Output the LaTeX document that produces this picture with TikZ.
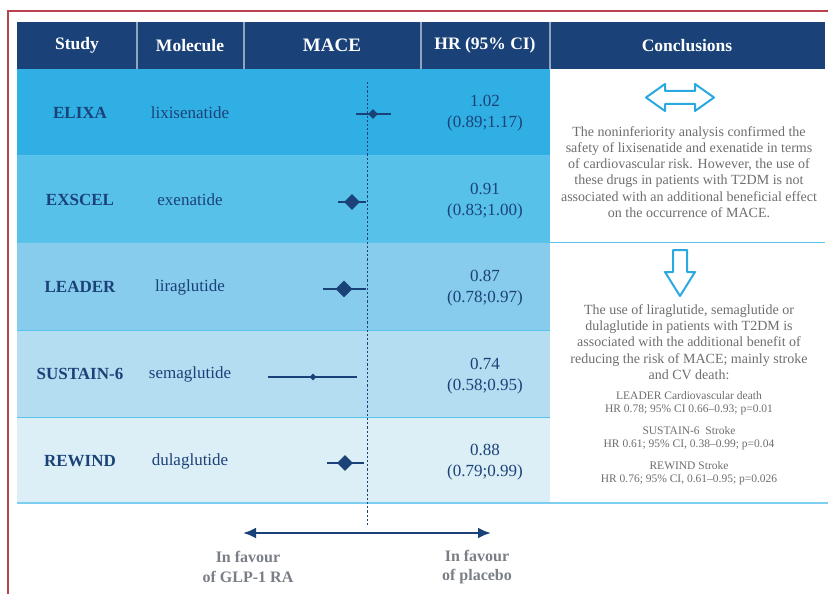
\documentclass[tikz,border=0pt]{standalone}
\usepackage{fontspec}
\setmainfont{Liberation Serif}
\usetikzlibrary{shapes.geometric,arrows.meta}
\definecolor{navy}{HTML}{1B4278}
\definecolor{redb}{HTML}{B8434D}
\definecolor{rowA}{HTML}{2FAFE3}
\definecolor{rowB}{HTML}{58C1EA}
\definecolor{rowC}{HTML}{87CCEC}
\definecolor{rowD}{HTML}{B4DDF1}
\definecolor{rowE}{HTML}{DCEFF7}
\definecolor{sepc}{HTML}{5BC3EC}
\definecolor{hsepc}{HTML}{8FA5C0}
\definecolor{cyanar}{HTML}{2AA9E1}
\definecolor{grayt}{HTML}{6E6E6E}
\definecolor{grayb}{HTML}{7A7F87}
\tikzset{
  hdr/.style={text=white,font=\fontsize{17.5}{20}\selectfont\bfseries,inner sep=0pt},
  study/.style={text=navy,font=\fontsize{17}{20}\selectfont\bfseries,inner sep=0pt},
  molec/.style={text=navy,font=\fontsize{17}{20}\selectfont,inner sep=0pt},
  hrtxt/.style={text=navy,font=\fontsize{17}{21}\selectfont,align=center,inner sep=0pt},
  concl/.style={text=grayt,font=\fontsize{14}{16.2}\selectfont,align=center,inner sep=0pt},
  small/.style={text=grayt,font=\fontsize{11.5}{13}\selectfont,align=center,inner sep=0pt},
  favour/.style={text=grayb,font=\fontsize{16}{19.5}\selectfont\bfseries,align=center,inner sep=0pt},
  hsep/.style={draw=hsepc,line width=1.2pt},
  rowsep/.style={draw=sepc,line width=1pt},
  ci/.style={draw=navy,line width=1.1pt},
  diam/.style={diamond,fill=navy,inner sep=0pt,aspect=1},
  hollow/.style={draw=cyanar,line width=2pt,line join=round,fill=white}
}
\begin{document}
\begin{tikzpicture}[x=1pt,y=-1pt]
\useasboundingbox (0,0) rectangle (828,594);
\fill[white] (0,0) rectangle (828,594);
% red frame
\draw[redb,line width=1.5pt] (8,594) -- (8,11) -- (828,11);
% header
\fill[navy] (17,22) rectangle (825,69);
\draw[hsep] (137,22) -- (137,69);
\draw[hsep] (244,22) -- (244,69);
\draw[hsep] (421,22) -- (421,69);
\draw[hsep] (550,22) -- (550,69);
\node[hdr] (hstudy) at (77,45.5) {Study};
\node[hdr] (hmol) at (190,45.5) {Molecule};
\node[hdr,font=\fontsize{19}{22}\selectfont\bfseries] (hmace) at (332,45.5) {MACE};
\node[hdr] (hhr) at (485,45.5) {HR (95\% CI)};
\node[hdr] (hcon) at (687,45.5) {Conclusions};
% rows
\fill[rowA] (17,69) rectangle (550,155);
\fill[rowB] (17,155) rectangle (550,242);
\fill[rowC] (17,242) rectangle (550,330);
\fill[rowD] (17,330) rectangle (550,417);
\fill[rowE] (17,417) rectangle (550,503);
\draw[rowsep] (17,155) -- (550,155);
\draw[rowsep] (17,242) -- (825,242);
\draw[rowsep] (17,330) -- (550,330);
\draw[rowsep] (17,417) -- (550,417);
\draw[draw=sepc!80,line width=1.2pt] (17,503) -- (828,503);
% dashed reference line
\coordinate (dtop) at (367,82);
\coordinate (dbot) at (367,527);
\draw[navy,line width=1pt,dash pattern=on 2.2pt off 2pt] (dtop) -- (dbot);
% study / molecule / HR
\node[study] (s1) at (80,113) {ELIXA};
\node[study] (s2) at (80,200) {EXSCEL};
\node[study] (s3) at (80,287) {LEADER};
\node[study] (s4) at (80,374) {SUSTAIN-6};
\node[study] (s5) at (80,461) {REWIND};
\node[molec] (m1) at (190,113) {lixisenatide};
\node[molec] (m2) at (190,200) {exenatide};
\node[molec] (m3) at (190,287) {liraglutide};
\node[molec] (m4) at (190,374) {semaglutide};
\node[molec] (m5) at (190,461) {dulaglutide};
\node[hrtxt] (h1) at (485,113) {1.02\\(0.89;1.17)};
\node[hrtxt] (h2) at (485,201) {0.91\\(0.83;1.00)};
\node[hrtxt] (h3) at (485,288) {0.87\\(0.78;0.97)};
\node[hrtxt] (h4) at (485,376) {0.74\\(0.58;0.95)};
\node[hrtxt] (h5) at (485,462) {0.88\\(0.79;0.99)};
% forest plot
\coordinate (a1) at (356,114); \coordinate (b1) at (391,114);
\draw[ci] (a1) -- (b1);
\node[diam,minimum width=10pt,minimum height=10pt] (d1) at (373,114) {};
\coordinate (a2) at (338,202); \coordinate (b2) at (366,202);
\draw[ci] (a2) -- (b2);
\node[diam,minimum width=16pt,minimum height=16pt] (d2) at (352,202) {};
\coordinate (a3) at (323,289); \coordinate (b3) at (366,289);
\draw[ci] (a3) -- (b3);
\node[diam,minimum width=17pt,minimum height=17pt] (d3) at (344,289) {};
\coordinate (a4) at (268,377); \coordinate (b4) at (357,377);
\draw[ci] (a4) -- (b4);
\node[diam,minimum width=7pt,minimum height=7pt] (d4) at (313,377) {};
\coordinate (a5) at (327,463); \coordinate (b5) at (364,463);
\draw[ci] (a5) -- (b5);
\node[diam,minimum width=16pt,minimum height=16pt] (d5) at (345,463) {};
% conclusions
\draw[hollow] (646,97.5) -- (665,84) -- (665,91) -- (695,91) -- (695,84) -- (714,97.5)
  -- (695,111) -- (695,104) -- (665,104) -- (665,111) -- cycle;
\node[concl] (c1) at (689,172) {The noninferiority analysis confirmed the\\
safety of lixisenatide and exenatide in terms\\
of cardiovascular risk. However, the use of\\
these drugs in patients with T2DM is not\\
associated with an additional beneficial effect\\
on the occurrence of MACE.};
\draw[hollow] (673,250) -- (687,250) -- (687,272) -- (695,272) -- (680,296)
  -- (665,272) -- (673,272) -- cycle;
\node[concl] (c2) at (689,342) {The use of liraglutide, semaglutide or\\
dulaglutide in patients with T2DM is\\
associated with the additional benefit of\\
reducing the risk of MACE; mainly stroke\\
and CV death:};
\node[small] (e1) at (689,403.5) {LEADER Cardiovascular death\\HR 0.78; 95\% CI 0.66–0.93; p=0.01};
\node[small] (e2) at (689,438.5) {SUSTAIN-6\ \ Stroke\\HR 0.61; 95\% CI, 0.38–0.99; p=0.04};
\node[small] (e3) at (689,473) {REWIND Stroke\\HR 0.76; 95\% CI, 0.61–0.95; p=0.026};
% bottom axis
\coordinate (fa) at (243,533);
\coordinate (fb) at (491,533);
\draw[navy,line width=2.4pt,{Latex[length=13pt,width=11pt]}-{Latex[length=13pt,width=11pt]}] (fa) -- (fb);
\node[favour] (f1) at (248,567) {In favour\\of GLP-1 RA};
\node[favour] (f2) at (477,567) {In favour\\of placebo};
\end{tikzpicture}
\end{document}
